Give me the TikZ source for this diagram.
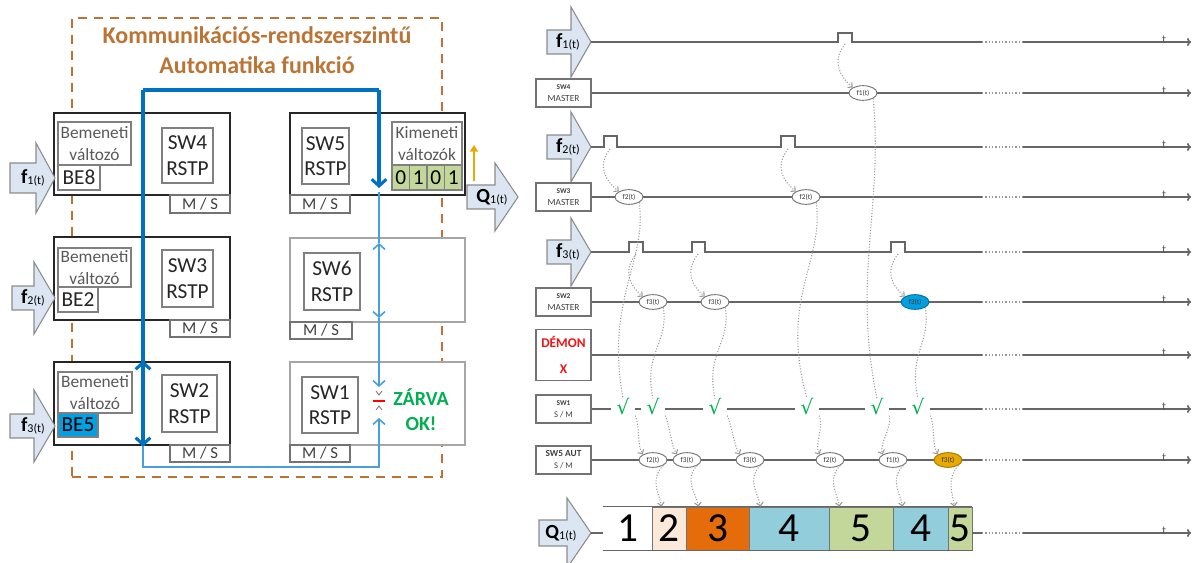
\documentclass[tikz,border=0pt]{standalone}
\usepackage{fontspec}
\setmainfont{Carlito}
\newfontfamily\djv{DejaVu Sans}
\usetikzlibrary{arrows.meta,shapes.geometric,calc}
\definecolor{brownd}{RGB}{188,116,52}
\definecolor{bluek}{RGB}{0,112,192}
\definecolor{bluel}{RGB}{70,160,220}
\definecolor{bfill}{RGB}{0,160,226}
\definecolor{afill}{RGB}{220,230,242}
\definecolor{gcell}{RGB}{196,215,155}
\definecolor{peach}{RGB}{253,233,217}
\definecolor{orng}{RGB}{228,108,10}
\definecolor{lblue}{RGB}{146,205,220}
\definecolor{okgreen}{RGB}{0,176,80}
\definecolor{gold}{RGB}{232,170,0}
\definecolor{demred}{RGB}{240,20,20}
\newcommand\fsz[2]{\fontsize{#1}{#2}\selectfont}
\newcommand\rbox[7]{\node[#1,minimum width={(#5-#3)*0.75pt},minimum height={(#6-#4)*0.75pt}] (#2) at ({(#3+#5)/2},{(#4+#6)/2}) {#7};}
\newcommand\barrow[9]{\filldraw[barr] (#2,#5-#6) -- (#3,#5-#6) -- (#3,#5-#7) -- (#4,#5) -- (#3,#5+#7) -- (#3,#5+#6) -- (#2,#5+#6) -- cycle; \coordinate (#1tip) at (#4,#5); \node[inner sep=0pt] (#1) at (#8,#5) {#9};}
\newcommand\ftxt[4]{{\fsz{#1}{#1}\bfseries #3}{\fsz{#2}{#2}\raisebox{-1pt}{#4}}}
\newcommand\tline[2]{\draw[tldot] (982,#2) -- (1023,#2); \coordinate (#1end) at (1191,#2); \draw[tl,-{To[length=3pt,width=6pt]}] (1023,#2) -- (#1end); \node[tmark] (#1t) at (1164,#2-2) {t};}
\begin{document}
\begin{tikzpicture}[x=0.75pt,y=-0.75pt,
 thickbox/.style={draw=black!85,line width=2.2pt,fill=white,inner sep=0pt},
 ibox/.style={draw=black!50,line width=0.8pt,fill=white,inner sep=0pt,align=center,text=black!85},
 gbox/.style={draw=black!35,line width=1pt,fill=white,inner sep=0pt},
 msbox/.style={draw=black!55,line width=0.8pt,fill=white,inner sep=0pt,font=\fsz{12.5}{13},text=black!75},
 barr/.style={fill=afill,draw=black!45,line width=0.8pt},
 sbox/.style={draw=black!55,line width=0.9pt,fill=white,inner sep=0pt,align=center,minimum width=41.25pt,minimum height=21pt,text=black!75},
 tl/.style={draw=black!60,line width=1.3pt},
 tldot/.style={draw=black!40,line width=1.2pt,dash pattern=on 1pt off 1.5pt},
 tmark/.style={font=\fsz{9}{9},text=black!65,inner sep=0pt},
 evt/.style={ellipse,draw=black!55,line width=0.7pt,fill=white,minimum width=21pt,minimum height=11pt,inner sep=0pt,font=\fsz{5.5}{5.5},text=black!80},
 chk/.style={fill=white,inner sep=0pt,minimum width=18pt,minimum height=11pt,font=\djv\fsz{15}{15},text=okgreen},
 dcon/.style={draw=black!40,line width=0.8pt,dash pattern=on 0.8pt off 1.3pt,-{Straight Barb[length=2.5pt,width=5pt]}},
 dline/.style={draw=black!40,line width=0.8pt,dash pattern=on 0.8pt off 1.3pt},
 qcell/.style={draw=black!55,line width=0.7pt,inner sep=0pt,font=\fsz{31}{31},text=black},
 bthick/.style={draw=bluek,line width=2.3pt},
 bthin/.style={draw=bluel,line width=1.2pt},
 tipk/.tip={Straight Barb[length=5pt,width=11pt]},
 tipn/.tip={Straight Barb[length=4pt,width=9pt]}]
\useasboundingbox (0,0) rectangle (1192,563);
% ---------------- left panel ----------------
\rbox{draw=brownd,line width=1.5pt,dash pattern=on 7pt off 5pt,inner sep=0pt}{frame}{72}{18}{442}{477}{}
\node[font=\fsz{18}{22.5}\bfseries,text=brownd,align=center] (ttl) at (257,50) {Kommunikációs-rendszerszintű\\Automatika funkció};
% SW4 group
\rbox{thickbox}{g4}{54}{113}{230}{195}{}
\rbox{ibox,font=\fsz{13}{16.5},text=black!65}{bm4}{58}{122}{131}{165}{Bemeneti\\változó}
\rbox{ibox,font=\fsz{16}{16}}{be8}{58}{165}{100}{190}{BE8}
\rbox{ibox,font=\fsz{16}{19}}{sw4}{162}{128}{213}{183}{SW4\\RSTP}
\rbox{msbox}{ms4}{170}{195}{230}{213}{M / S}
% SW3 group
\rbox{thickbox}{g3}{54}{237}{230}{320}{}
\rbox{ibox,font=\fsz{13}{16.5},text=black!65}{bm3}{58}{248}{131}{287}{Bemeneti\\változó}
\rbox{ibox,font=\fsz{16}{16}}{be2}{58}{287}{98}{312}{BE2}
\rbox{ibox,font=\fsz{16}{19}}{sw3}{162}{250}{213}{307}{SW3\\RSTP}
\rbox{msbox}{ms3}{170}{320}{230}{337}{M / S}
% SW2 group
\rbox{thickbox}{g2}{54}{362}{230}{445}{}
\rbox{ibox,font=\fsz{13}{16.5},text=black!65}{bm2}{58}{372}{132}{413}{Bemeneti\\változó}
\rbox{ibox,fill=bfill,text=black,font=\fsz{16}{16}}{be5}{58}{413}{98}{437}{BE5}
\rbox{ibox,font=\fsz{16}{19}}{sw2}{162}{375}{217}{432}{SW2\\RSTP}
\rbox{msbox}{ms2}{170}{445}{230}{462}{M / S}
% SW5 group
\rbox{thickbox}{g5}{290}{113}{465}{195}{}
\rbox{ibox,font=\fsz{16}{19}}{sw5}{302}{128}{349}{184}{SW5\\RSTP}
\rbox{ibox,font=\fsz{13}{16.5},text=black!65}{km}{392}{122}{462}{165}{Kimeneti\\változók}
\rbox{ibox,fill=gcell,text=black,font=\fsz{16}{16}}{k1}{392}{165}{409.5}{190}{0}
\rbox{ibox,fill=gcell,text=black,font=\fsz{16}{16}}{k2}{409.5}{165}{427}{190}{1}
\rbox{ibox,fill=gcell,text=black,font=\fsz{16}{16}}{k3}{427}{165}{444.5}{190}{0}
\rbox{ibox,fill=gcell,text=black,font=\fsz{16}{16}}{k4}{444.5}{165}{462}{190}{1}
\rbox{msbox}{ms5}{290}{195}{350}{213}{M / S}
% SW6 group
\rbox{gbox}{g6}{290}{238}{465}{322}{}
\rbox{ibox,font=\fsz{16}{19}}{sw6}{304}{253}{360}{310}{SW6\\RSTP}
\rbox{msbox}{ms6}{290}{322}{352}{339}{M / S}
% SW1 group
\rbox{gbox}{g1}{290}{362}{465}{445}{}
\rbox{ibox,font=\fsz{16}{19}}{sw1}{302}{377}{358}{433}{SW1\\RSTP}
\rbox{msbox}{ms1}{290}{445}{350}{462}{M / S}
% input / output arrows
\barrow{lf1}{10}{36}{55}{178}{15}{35}{33}{\ftxt{15}{9}{f}{1(t)}}
\barrow{lf2}{12}{34}{55}{298}{12}{36}{33}{\ftxt{15}{9}{f}{2(t)}}
\barrow{lf3}{10}{34}{55}{426}{12}{36}{33}{\ftxt{15}{9}{f}{3(t)}}
\barrow{lq1}{467}{495}{518}{197}{12}{34}{492}{\ftxt{15}{9}{Q}{1(t)}}
% orange arrow
\coordinate (oa1) at (474,181); \coordinate (oa2) at (474,145);
\draw[draw=gold,line width=1.6pt,-{Triangle[length=5pt,width=6pt]}] (oa1) -- (oa2);
% blue paths
\coordinate (bt1) at (143,90); \coordinate (bt2) at (379,90);
\draw[bthick] (bt1) -- (bt2);
\draw[bthick,-tipk] (bt2) -- (379,188);
\draw[bthick,-tipk] (bt1) -- (g2.south -| bt1);
\draw[bthick,-tipk] (g2.south -| bt1) -- (g2.north -| bt1);
\coordinate (bl1) at (143,467); \coordinate (bl2) at (379,467);
\draw[bthin,-tipn] (g2.south -| bt1) -- (bl1) -- (bl2) -- (379,418);
\draw[bthin] (379,192) -- (379,243);
\draw[bthin,tipn-tipn] (379,243) -- (379,318);
\draw[bthin,-tipn] (379,318) -- (379,387);
\draw[black!55,line width=0.6pt] (376,391) -- (379,395) -- (382,391);
\draw[red,line width=1.3pt] (373,401) -- (385,401);
\draw[black!55,line width=0.6pt] (376,410) -- (379,406) -- (382,410);
\node[font=\fsz{15}{19}\bfseries,text=okgreen,align=center] (zok) at (421,410) {ZÁRVA\\OK!};
% ---------------- right panel ----------------
\barrow{af1}{547}{571}{591}{42}{12}{35}{568}{\ftxt{15}{9}{f}{1(t)}}
\barrow{af2}{547}{571}{591}{147}{12}{35}{568}{\ftxt{15}{9}{f}{2(t)}}
\barrow{af3}{547}{571}{591}{252}{12}{34}{568}{\ftxt{15}{9}{f}{3(t)}}
\barrow{aq}{539}{567}{591}{533}{13}{35}{561}{\ftxt{15}{9}{Q}{1(t)}}
\node[sbox,font=\fsz{7}{9}] (b4) at (563.5,93) {{\bfseries\fsz{5.5}{9}SW4}\\MASTER};
\node[sbox,font=\fsz{7}{9}] (b3) at (563.5,197) {{\bfseries\fsz{5.5}{9}SW3}\\MASTER};
\node[sbox,font=\fsz{7}{9}] (b2) at (563.5,302) {{\bfseries\fsz{5.5}{9}SW2}\\MASTER};
\node[sbox,minimum height=38.25pt,font=\fsz{10}{19.5}\bfseries,text=demred] (bd) at (563.5,355) {DÉMON\\X};
\node[sbox,font=\fsz{6.5}{9}] (bs1) at (563.5,409) {{\bfseries\fsz{5.5}{9}SW1}\\S / M};
\node[sbox,font=\fsz{6.5}{9}] (b5a) at (563.5,460) {{\bfseries\fsz{7}{9}SW5 AUT}\\S / M};
% time lines
\draw[tl] (af1tip) -- (838,42) -- (838,33) -- (852,33) -- (852,42) -- (982,42); \tline{r1}{42}
\draw[tl] (b4.east) -- (982,93); \tline{r2}{93}
\draw[tl] (af2tip) -- (604,147) -- (604,136) -- (617,136) -- (617,147) -- (781,147) -- (781,136) -- (795,136) -- (795,147) -- (982,147); \tline{r3}{147}
\draw[tl] (b3.east) -- (982,197); \tline{r4}{197}
\draw[tl] (af3tip) -- (629,252) -- (629,242) -- (643,242) -- (643,252) -- (692,252) -- (692,242) -- (705,242) -- (705,252) -- (891,252) -- (891,242) -- (905,242) -- (905,252) -- (982,252); \tline{r5}{252}
\draw[tl] (b2.east) -- (982,302); \tline{r6}{302}
\draw[tl] (bd.east) -- (982,355); \tline{r7}{355}
\draw[tl] (bs1.east) -- (982,409); \tline{r8}{409}
\draw[tl] (b5a.east) -- (982,460); \tline{r9}{460}
% pulse points
\coordinate (p1a) at (845,44);
\coordinate (p2a) at (610,149); \coordinate (p2b) at (788,149);
\coordinate (p3a) at (636,254); \coordinate (p3b) at (698,254); \coordinate (p3c) at (898,254);
% events
\node[evt] (e4a) at (863,93) {f1(t)};
\node[evt] (e3a) at (629,197) {f2(t)};
\node[evt] (e3b) at (806,197) {f2(t)};
\node[evt] (e2a) at (653,302) {f3(t)};
\node[evt] (e2b) at (715,302) {f3(t)};
\node[evt,fill=bfill,draw=bfill!70!black] (e2c) at (915,302) {f3(t)};
\node[chk] (c1) at (623,407) {√};
\node[chk] (c2) at (653,407) {√};
\node[chk] (c3) at (715,407) {√};
\node[chk] (c4) at (807,407) {√};
\node[chk] (c5) at (877,407) {√};
\node[chk] (c6) at (918,407) {√};
\node[evt] (e5a) at (653,460) {f2(t)};
\node[evt] (e5b) at (687,460) {f3(t)};
\node[evt] (e5c) at (750,460) {f3(t)};
\node[evt] (e5d) at (830,460) {f2(t)};
\node[evt] (e5e) at (893,460) {f1(t)};
\node[evt,fill=gold,draw=gold!70!black] (e5f) at (948,460) {f3(t)};
% Q1 output
\rbox{qcell,draw=none}{q1}{603}{507}{652}{550}{1}
\rbox{qcell,fill=peach}{q2}{652}{507}{686}{550}{2}
\rbox{qcell,fill=orng}{q3}{686}{507}{749}{550}{3}
\rbox{qcell,fill=lblue}{q4}{749}{507}{829}{550}{4}
\rbox{qcell,fill=gcell}{q5}{829}{507}{893}{550}{5}
\rbox{qcell,fill=lblue}{q6}{893}{507}{948}{550}{4}
\rbox{qcell,fill=gcell}{q7}{948}{507}{972}{550}{5}
\draw[tl] (q1.north west) -- (q7.north east);
\draw[tl] (q1.south west) -- (q7.south east);
\draw[tl] (aqtip) -- (603,533);
\draw[tl] (972,533) -- (982,533); \tline{rq}{533}
% dotted connectors: pulses to events
\draw[dcon] (p1a) .. controls +(-14,18) and +(-12,-10) .. (e4a.north west);
\draw[dcon] (p2a) .. controls +(-14,18) and +(-12,-10) .. (e3a.north west);
\draw[dcon] (p2b) .. controls +(-14,18) and +(-12,-10) .. (e3b.north west);
\draw[dcon] (p3a) .. controls +(-14,18) and +(-12,-10) .. (e2a.north west);
\draw[dcon] (p3b) .. controls +(-14,18) and +(-12,-10) .. (e2b.north west);
\draw[dcon] (p3c) .. controls +(-14,18) and +(-12,-10) .. (e2c.north west);
% events to checks
\draw[dline] (e4a.south east) .. controls +(10,110) and +(-25,-120) .. (c5.north);
\draw[dline] (e3a.south east) .. controls +(8,60) and +(-18,-100) .. (c1.north);
\draw[dline] (e3b.south east) .. controls +(8,60) and +(-28,-100) .. (c4.north);
\draw[dline] (e2a.south east) .. controls +(6,35) and +(-10,-45) .. (c2.north);
\draw[dline] (e2b.south east) .. controls +(6,35) and +(-10,-45) .. (c3.north);
\draw[dline] (e2c.south east) .. controls +(6,35) and +(-10,-45) .. (c6.north);
% checks to SW5 AUT events
\draw[dcon] (c1.south east) .. controls +(5,12) and +(-6,-10) .. (e5a.north west);
\draw[dcon] (c2.south east) .. controls +(5,12) and +(-6,-10) .. (e5b.north west);
\draw[dcon] (c3.south east) .. controls +(5,12) and +(-6,-10) .. (e5c.north west);
\draw[dcon] (c4.south east) .. controls +(5,12) and +(-6,-10) .. (e5d.north west);
\draw[dcon] (c5.south east) .. controls +(3,12) and +(-4,-10) .. (e5e.north west);
\draw[dcon] (c6.south east) .. controls +(5,12) and +(-6,-10) .. (e5f.north west);
% SW5 AUT events to output
\draw[dcon] (e5a.south east) .. controls +(-14,14) and +(-2,-12) .. ($(q2.north west)+(10,0)$);
\draw[dcon] (e5b.south east) .. controls +(-14,14) and +(-2,-12) .. ($(q3.north west)+(13,0)$);
\draw[dcon] (e5c.south east) .. controls +(-14,14) and +(-2,-12) .. ($(q4.north west)+(12,0)$);
\draw[dcon] (e5d.south east) .. controls +(-14,14) and +(-2,-12) .. ($(q5.north west)+(11,0)$);
\draw[dcon] (e5e.south east) .. controls +(-14,14) and +(-2,-12) .. ($(q6.north west)+(10,0)$);
\draw[dcon] (e5f.south east) .. controls +(-12,14) and +(-2,-12) .. ($(q7.north west)+(7,0)$);
\end{tikzpicture}
\end{document}
